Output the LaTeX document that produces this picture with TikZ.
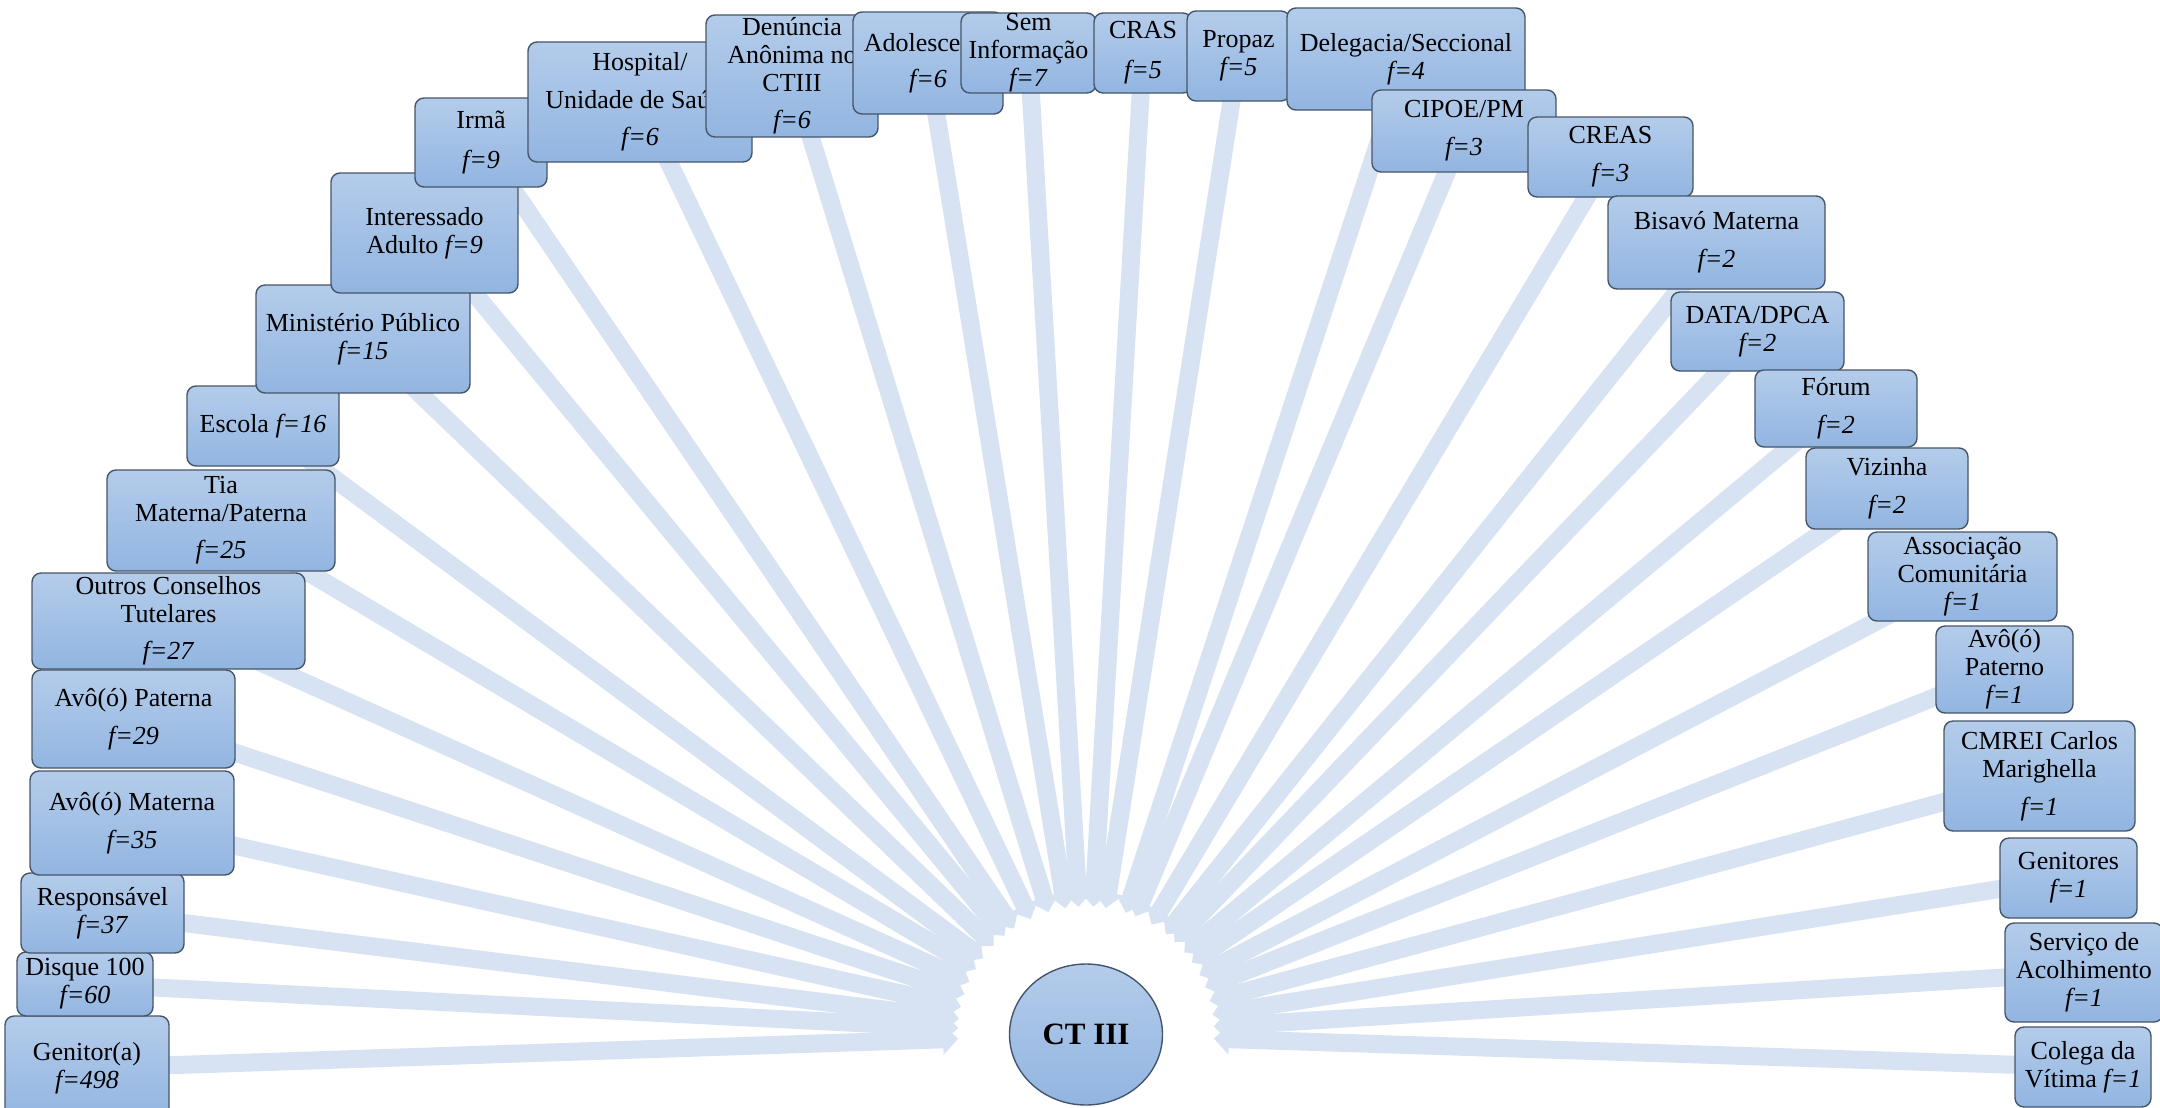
\documentclass[tikz,border=0pt]{standalone}
\usepackage{fontspec}
\setmainfont{Liberation Serif}
\usetikzlibrary{arrows.meta,shapes.geometric}
\definecolor{boxtop}{HTML}{B4CCEA}
\definecolor{boxbot}{HTML}{92B5E1}
\definecolor{boxline}{HTML}{46566A}
\definecolor{arrowc}{HTML}{D7E3F3}
\tikzset{
  box/.style={draw=boxline, line width=1.4pt, rounded corners=9pt, top color=boxtop, bottom color=boxbot,
    inner sep=0pt, align=center, font=\fontsize{26}{28}\selectfont},
  hubnode/.style={ellipse, draw=boxline, line width=1.4pt, top color=boxtop, bottom color=boxbot,
    minimum width=153pt, minimum height=141pt, inner sep=0pt, font=\fontsize{31}{34}\selectfont\bfseries},
  conn/.style={color=arrowc, line width=18pt, -{Triangle[width=30pt,length=15pt]}, shorten >=128pt}
}
\newcommand{\bx}[6]{\node[box, minimum width=#4pt, minimum height=#5pt] (#1) at (#2,#3) {#6};}
\begin{document}
\begin{tikzpicture}[x=1pt,y=-1pt]
\useasboundingbox (0,0) rectangle (2160,1108);
\fill[white] (0,0) rectangle (2160,1108);
% hub
\node[hubnode] (hub) at (1086,1034.5) {CT III};
% coordinates of box centres for connectors (drawn below boxes)
\coordinate (c1) at (87,1068);
\coordinate (c2) at (85,984);
\coordinate (c3) at (102.5,913);
\coordinate (c4) at (132,823);
\coordinate (c5) at (133.5,719);
\coordinate (c6) at (168.5,621);
\coordinate (c7) at (221,520.5);
\coordinate (c8) at (263,426);
\coordinate (c9) at (363,339);
\coordinate (c10) at (424.5,233);
\coordinate (c11) at (481,142.5);
\coordinate (c12) at (640,102);
\coordinate (c13) at (792,76);
\coordinate (c14) at (928,63);
\coordinate (c15) at (1028.5,53);
\coordinate (c16) at (1143,53);
\coordinate (c17) at (1238.5,56);
\coordinate (c18) at (1406,59);
\coordinate (c19) at (1464,131);
\coordinate (c20) at (1610.5,157);
\coordinate (c21) at (1716.5,242.5);
\coordinate (c22) at (1757.5,331.5);
\coordinate (c23) at (1836,408.5);
\coordinate (c24) at (1887,488.5);
\coordinate (c25) at (1962.5,576.5);
\coordinate (c26) at (2004.5,669.5);
\coordinate (c27) at (2039.5,776);
\coordinate (c28) at (2068.5,878);
\coordinate (c29) at (2084,972.5);
\coordinate (c30) at (2083,1067);
\foreach \i in {1,...,30} {\draw[conn] (c\i) -- (hub.center);}
% boxes, in drawing order
\bx{genitor}{87}{1068}{164}{104}{Genitor(a)\\\textit{f=498}}
\bx{disque}{85}{984}{136}{64}{Disque 100\\\textit{f=60}}
\bx{resp}{102.5}{913}{163}{80}{Responsável\\\textit{f=37}}
\bx{avomat}{132}{823}{204}{104}{Avô(ó) Materna\\[10pt]\textit{f=35}}
\bx{avopat}{133.5}{719}{203}{98}{Avô(ó) Paterna\\[10pt]\textit{f=29}}
\bx{outros}{168.5}{621}{273}{96}{Outros Conselhos\\Tutelares\\[9pt]\textit{f=27}}
\bx{tia}{221}{520.5}{228}{101}{Tia\\Materna/Paterna\\[9pt]\textit{f=25}}
\bx{escola}{263}{426}{152}{80}{Escola \textit{f=16}}
\bx{mp}{363}{339}{214}{108}{Ministério Público\\\textit{f=15}}
\bx{interessado}{424.5}{233}{187}{120}{Interessado\\Adulto \textit{f=9}}
\bx{irma}{481}{142.5}{132}{89}{Irmã\\[12pt]\textit{f=9}}
\bx{hospital}{640}{102}{224}{120}{Hospital/\\[10pt]Unidade de Saúde\\[9pt]\textit{f=6}}
\bx{denuncia}{792}{76}{172}{122}{Denúncia\\Anônima no\\CTIII\\[9pt]\textit{f=6}}
\bx{adolescente}{928}{63}{150}{102}{Adolescente\\[8pt]\textit{f=6}}
\bx{seminfo}{1028.5}{53}{135}{80}{Sem\\Informação\\\textit{f=7}}
\bx{cras}{1143}{53}{98}{80}{CRAS\\[12pt]\textit{f=5}}
\bx{propaz}{1238.5}{56}{103}{90}{Propaz\\\textit{f=5}}
\bx{delegacia}{1406}{59}{238}{102}{Delegacia/Seccional\\\textit{f=4}}
\bx{cipoe}{1464}{131}{184}{82}{CIPOE/PM\\[10pt]\textit{f=3}}
\bx{creas}{1610.5}{157}{165}{80}{CREAS\\[10pt]\textit{f=3}}
\bx{bisavo}{1716.5}{242.5}{217}{93}{Bisavó Materna\\[10pt]\textit{f=2}}
\bx{data}{1757.5}{331.5}{173}{79}{DATA/DPCA\\\textit{f=2}}
\bx{forum}{1836}{408.5}{162}{77}{Fórum\\[10pt]\textit{f=2}}
\bx{vizinha}{1887}{488.5}{162}{81}{Vizinha\\[10pt]\textit{f=2}}
\bx{assoc}{1962.5}{576.5}{189}{89}{Associação\\Comunitária\\\textit{f=1}}
\bx{avopaterno}{2004.5}{669.5}{137}{87}{Avô(ó)\\Paterno\\\textit{f=1}}
\bx{cmrei}{2039.5}{776}{191}{110}{CMREI Carlos\\Marighella\\[10pt]\textit{f=1}}
\bx{genitores}{2068.5}{878}{137}{80}{Genitores\\\textit{f=1}}
\bx{servico}{2084}{972.5}{158}{99}{Serviço de\\Acolhimento\\\textit{f=1}}
\bx{colega}{2083}{1067}{136}{80}{Colega da\\Vítima \textit{f=1}}
\end{tikzpicture}
\end{document}
